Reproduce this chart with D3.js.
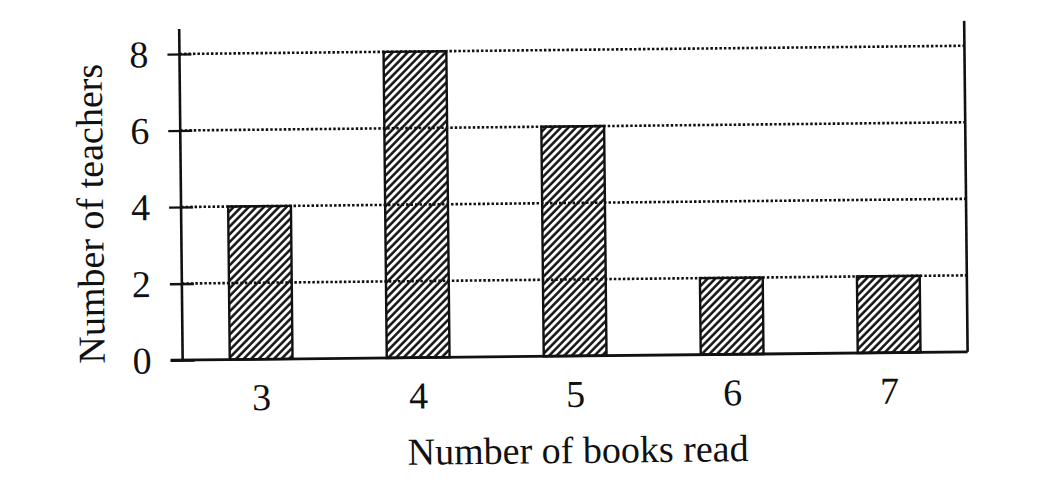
<!DOCTYPE html>
<html>
<head>
<meta charset="utf-8">
<script src="https://cdn.jsdelivr.net/npm/d3@7"></script>
<style>
  html, body { margin: 0; padding: 0; background: #fff; }
  text { font-family: "Liberation Serif", "Times New Roman", serif; fill: #111; }
</style>
</head>
<body>
<div id="chart"></div>
<script>
const books = ["3", "4", "5", "6", "7"];
const teachers = [4, 8, 6, 2, 2];
const yTicks = [0, 2, 4, 6, 8];

const W = 1062, H = 482;
const margin = { top: 25, right: 96, bottom: 126, left: 181 };
const width = W - margin.left - margin.right;
const height = H - margin.top - margin.bottom;

const svg = d3.select("#chart")
  .append("svg")
  .attr("width", W)
  .attr("height", H);

// hatch fill for the bars
svg.append("defs")
  .append("pattern")
  .attr("id", "hatch")
  .attr("patternUnits", "userSpaceOnUse")
  .attr("width", 5.4)
  .attr("height", 10)
  .attr("patternTransform", "rotate(45)")
  .append("line")
  .attr("x1", 1.4).attr("y1", 0)
  .attr("x2", 1.4).attr("y2", 10)
  .attr("stroke", "#111")
  .attr("stroke-width", 2.5);

// the scan is slightly tilted
const g = svg.append("g")
  .attr("transform", `rotate(-0.6, 572, 200) translate(${margin.left},${margin.top})`);

const x = d3.scaleBand()
  .domain(books)
  .range([0, width])
  .paddingInner(0.6)
  .paddingOuter(0.3);

const y = d3.scaleLinear()
  .domain([0, 8.65])
  .range([height, 0]);

// dotted grid lines
g.selectAll(".grid")
  .data(yTicks.filter(d => d > 0))
  .join("line")
  .attr("class", "grid")
  .attr("x1", 0)
  .attr("x2", width)
  .attr("y1", d => y(d))
  .attr("y2", d => y(d))
  .attr("stroke", "#111")
  .attr("stroke-width", 2.6)
  .attr("stroke-dasharray", "2.5,2");

// bars
g.selectAll(".bar")
  .data(teachers)
  .join("rect")
  .attr("class", "bar")
  .attr("x", (d, i) => x(books[i]))
  .attr("y", d => y(d))
  .attr("width", x.bandwidth())
  .attr("height", d => height - y(d))
  .attr("fill", "url(#hatch)")
  .attr("stroke", "#111")
  .attr("stroke-width", 2.4);

// y axis
const yAxis = g.append("g")
  .call(d3.axisLeft(y).tickValues(yTicks).tickSize(12).tickPadding(18).tickFormat(d3.format("d")));
yAxis.select(".domain").remove();
yAxis.selectAll(".tick line").attr("x2", 12).attr("x1", -12).attr("stroke", "#111").attr("stroke-width", 2.4);
yAxis.selectAll(".tick text")
  .attr("x", -31)
  .attr("dy", "0.33em")
  .style("font-size", "38px");

g.append("line")
  .attr("x1", 0).attr("x2", 0)
  .attr("y1", 0).attr("y2", height)
  .attr("stroke", "#111").attr("stroke-width", 2.6);

// right border
g.append("line")
  .attr("x1", width).attr("x2", width)
  .attr("y1", 0).attr("y2", height)
  .attr("stroke", "#111").attr("stroke-width", 2.6);

// x axis
const xAxis = g.append("g")
  .attr("transform", `translate(0,${height})`)
  .call(d3.axisBottom(x).tickSize(0).tickPadding(0));
xAxis.select(".domain").remove();
xAxis.selectAll(".tick text")
  .attr("y", 51)
  .attr("dy", 0)
  .style("font-size", "38px");

g.append("line")
  .attr("x1", -12).attr("x2", width)
  .attr("y1", height).attr("y2", height)
  .attr("stroke", "#111").attr("stroke-width", 2.8);

// axis titles
g.append("text")
  .attr("x", width / 2 + 2)
  .attr("y", height + 107)
  .attr("text-anchor", "middle")
  .style("font-size", "38px")
  .text("Number of books read");

g.append("text")
  .attr("transform", `translate(-78,${y(3.85)}) rotate(-90)`)
  .attr("text-anchor", "middle")
  .style("font-size", "38px")
  .text("Number of teachers");
</script>
</body>
</html>
